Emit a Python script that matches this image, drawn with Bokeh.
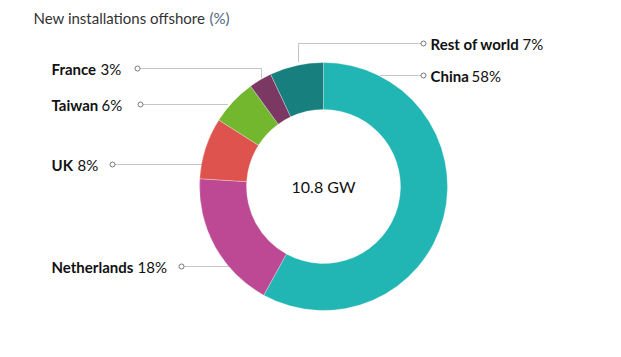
import numpy as np
from bokeh.plotting import figure
from bokeh.models import Range1d, ColumnDataSource
from bokeh.embed import file_html
from bokeh.resources import INLINE
from bokeh.core.properties import value

# ---- data ----
countries = ["China", "Netherlands", "UK", "Taiwan", "France", "Rest of world"]
shares = [58, 18, 8, 6, 3, 7]
colors = ["#21b5b3", "#bd4994", "#df534e", "#73b72f", "#7b3862", "#17807f"]
total_label = "10.8 GW"
title_main = "New installations offshore"
title_unit = "(%)"

# ---- layout (image pixel coords, y downward) ----
W, H = 621, 357
CX, CY = 323, 186
R_OUT, R_IN = 124, 77
FONT = "Lato"

# label layout per country: name_x, value_x, text_y, leader polyline points
label_layout = {
    "China":         (430, 471, 75,  [(423, 75), (380, 75)]),
    "Netherlands":   (51, 137, 266,  [(181, 266), (228, 266)]),
    "UK":            (51, 77, 164,   [(112, 164), (201, 164)]),
    "Taiwan":        (51, 101, 104,  [(140, 104), (228, 104)]),
    "France":        (51, 100, 68,   [(137, 68), (261, 68), (261, 77)]),
    "Rest of world": (430, 522, 43,  [(423, 43), (298, 43), (298, 62)]),
}

def fy(y):
    return H - y

p = figure(width=W, height=H, x_range=Range1d(0, W), y_range=Range1d(0, H),
           output_backend="svg", toolbar_location=None, min_border=0)
p.axis.visible = False
p.grid.visible = False
p.outline_line_color = None
p.background_fill_color = "white"
p.border_fill_color = "white"

# donut
frac = np.array(shares, dtype=float) / sum(shares)
cum = np.concatenate([[0], np.cumsum(frac)])
start = np.pi / 2 - cum[:-1] * 2 * np.pi
end = np.pi / 2 - cum[1:] * 2 * np.pi
src = ColumnDataSource(dict(start=start, end=end, color=colors))
p.annular_wedge(x=CX, y=fy(CY), inner_radius=R_IN, outer_radius=R_OUT,
                start_angle="start", end_angle="end", direction="clock",
                fill_color="color", line_color="white", line_width=0.3, source=src)

# center text
p.text(x=[CX], y=[fy(CY)], text=[total_label], text_align="center",
       text_baseline="middle", text_font=value(FONT), text_font_size="16px",
       text_color="#111111")

# labels and leader lines
for name, share in zip(countries, shares):
    nx, vx, ty, pts = label_layout[name]
    xs = [pt[0] for pt in pts]
    ys = [fy(pt[1]) for pt in pts]
    p.line(xs, ys, line_color="#8a8a8a", line_width=1, line_dash="1 1")
    p.scatter([xs[0]], [ys[0]], marker="circle", size=5, fill_color="white",
              line_color="#777777", line_width=1)
    p.text(x=[nx], y=[fy(ty)], text=[name], text_baseline="middle",
           text_font=value(FONT), text_font_size="15px", text_font_style="bold",
           text_color="#111111")
    p.text(x=[vx], y=[fy(ty)], text=[f"{share}%"], text_baseline="middle",
           text_font=value(FONT), text_font_size="15px", text_color="#111111")

# title
p.text(x=[33], y=[fy(17)], text=[title_main], text_baseline="middle",
       text_font=value(FONT), text_font_size="15px", text_color="#333333")
p.text(x=[209], y=[fy(17)], text=[title_unit], text_baseline="middle",
       text_font=value(FONT), text_font_size="15px", text_color="#4e6585")

open("out.html", "w").write(file_html(p, INLINE))
